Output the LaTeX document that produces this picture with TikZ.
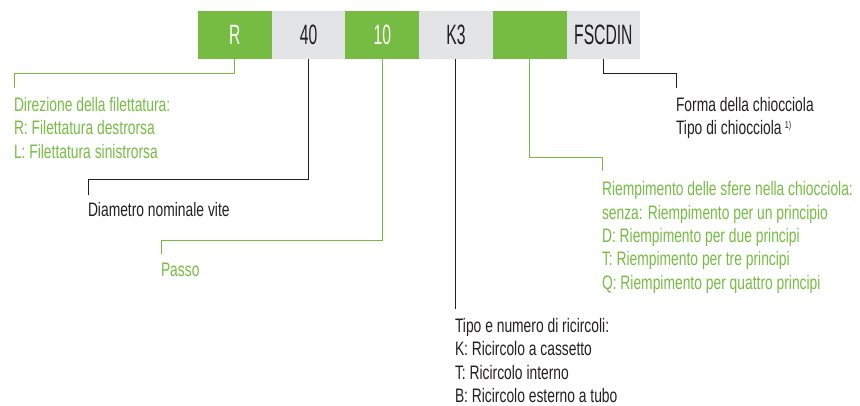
\documentclass[tikz,border=0pt]{standalone}
\usepackage{fontspec}
\setmainfont{Liberation Sans}[FakeStretch=0.71]
\newfontfamily\boxfont{Liberation Sans}[FakeStretch=0.56]
\definecolor{ggreen}{HTML}{76BC43}
\definecolor{ggray}{HTML}{E3E4E6}
\definecolor{tdark}{HTML}{231F20}
\tikzset{
  cell/.style={minimum width=73.7pt, minimum height=47.7pt, inner sep=0pt, outer sep=0pt,
    font=\boxfont\fontsize{28}{28}\selectfont, anchor=north west},
  gcell/.style={cell, fill=ggreen, text=white},
  wcell/.style={cell, fill=ggray, text=tdark},
  gline/.style={draw=ggreen, line width=1pt},
  kline/.style={draw=tdark, line width=1pt},
  lab/.style={anchor=base west, inner sep=0pt, outer sep=0pt, align=left,
    font=\fontsize{19.5}{23.3}\selectfont},
  glabel/.style={lab, text=ggreen},
  klabel/.style={lab, text=tdark}
}
\begin{document}
\begin{tikzpicture}[x=1pt,y=-1pt]
\useasboundingbox (0,0) rectangle (860,406);
% code cells
\node[gcell] (c1) at (198,11) {R};
\node[wcell] (c2) at (271.7,11) {40};
\node[gcell] (c3) at (345.4,11) {10};
\node[wcell] (c4) at (419.1,11) {K3};
\node[gcell] (c5) at (492.8,11) {};
\node[wcell] (c6) at (566.5,11) {FSCDIN};
% labels (anchor = baseline of the last line)
\node[glabel] (l1) at (14,158.1) {Direzione della filettatura:\\R: Filettatura destrorsa\\L: Filettatura sinistrorsa};
\node[klabel] (l2) at (88,217) {Diametro nominale vite};
\node[glabel] (l3) at (161,277) {Passo};
\node[klabel] (l4) at (455,402.5) {Tipo e numero di ricircoli:\\K: Ricircolo a cassetto\\T: Ricircolo interno\\B: Ricircolo esterno a tubo};
\node[glabel] (l5) at (602,289.2) {Riempimento delle sfere nella chiocciola:\\senza: Riempimento per un principio\\D: Riempimento per due principi\\T: Riempimento per tre principi\\Q: Riempimento per quattro principi};
\node[klabel] (l6) at (676,135) {Forma della chiocciola\\Tipo di chiocciola\,\raisebox{6pt}{\fontsize{10}{10}\selectfont 1)}};
% line ends
\coordinate (e1) at (14,87.7);
\coordinate (e2) at (88,195);
\coordinate (e3) at (161,254);
\coordinate (e4) at (c4.south |- 0,309);
\coordinate (e5) at (602.3,171);
\coordinate (e6) at (676.3,87.7);
% connectors
\draw[gline] (c1.south) -- (c1.south |- 0,73.3) -| (e1);
\draw[kline] (c2.south) -- (c2.south |- 0,180) -| (e2);
\draw[gline] (c3.south) -- (c3.south |- 0,240.3) -| (e3);
\draw[kline] (c4.south) -- (e4);
\draw[gline] (c5.south) -- (c5.south |- 0,157.3) -| (e5);
\draw[kline] (c6.south) -- (c6.south |- 0,73.3) -| (e6);
\end{tikzpicture}
\end{document}
